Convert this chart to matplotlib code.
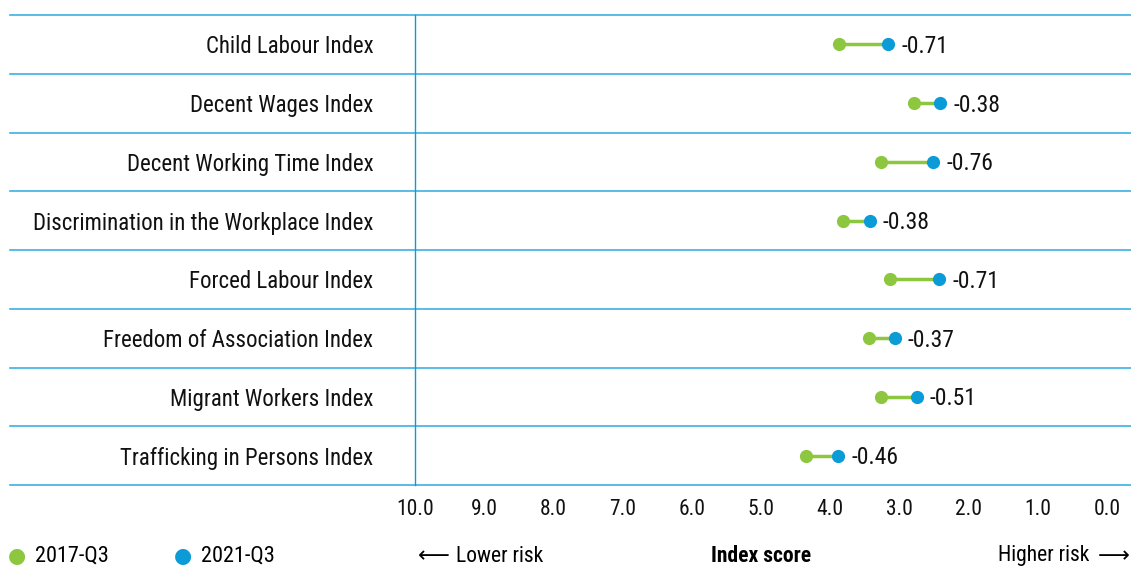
import matplotlib
matplotlib.use("Agg")
import matplotlib.pyplot as plt
from matplotlib import font_manager

indices = [
    "Child Labour Index",
    "Decent Wages Index",
    "Decent Working Time Index",
    "Discrimination in the Workplace Index",
    "Forced Labour Index",
    "Freedom of Association Index",
    "Migrant Workers Index",
    "Trafficking in Persons Index",
]
score_2017 = [3.87, 2.79, 3.27, 3.81, 3.14, 3.44, 3.26, 4.35]
score_2021 = [3.16, 2.41, 2.51, 3.43, 2.43, 3.07, 2.75, 3.89]
change = ["-0.71", "-0.38", "-0.76", "-0.38", "-0.71", "-0.37", "-0.51", "-0.46"]
ticks = [10, 9, 8, 7, 6, 5, 4, 3, 2, 1, 0]

GREEN = "#8dc63f"
BLUE = "#0b9bd7"
RULE = "#3cb0e2"

available = {f.name for f in font_manager.fontManager.ttflist}
for fam in ["Liberation Sans Narrow", "Roboto Condensed", "Roboto"]:
    if fam in available:
        plt.rcParams["font.family"] = fam
        break

fig = plt.figure(figsize=(11.31, 5.68), dpi=100)
W, H = 1131, 568
ax = fig.add_axes([415 / W, 1 - 485 / H, (W - 415) / W, 470 / H])

y = list(range(len(indices)))
for i in y:
    ax.plot([score_2017[i], score_2021[i]], [i, i], color=GREEN, lw=2.5,
            solid_capstyle="butt", zorder=2)
ax.plot(score_2017, y, "o", color=GREEN, ms=9.5, mec="none", zorder=3)
ax.plot(score_2021, y, "o", color=BLUE, ms=9.5, mec="none", zorder=3)
for i in y:
    ax.annotate(change[i], (score_2021[i], i), xytext=(9.5, -1.5),
                textcoords="offset points", va="center", ha="left",
                fontsize=17, color="#111111")

# row rules spanning the label area too
for k in range(len(indices) + 1):
    ax.axhline(k - 0.5, xmin=(10 - 415) / (W - 415), xmax=1, color=RULE,
               lw=1.2, clip_on=False, zorder=1)

ax.set_xlim(10, 10 - (W - 415) / 69.2)
ax.set_ylim(len(indices) - 0.5, -0.5)
for s in ["top", "right", "bottom"]:
    ax.spines[s].set_visible(False)
ax.spines["left"].set_color(BLUE)
ax.spines["left"].set_linewidth(1.0)

ax.set_yticks(y)
ax.set_yticklabels(indices, fontsize=16.5, color="#111111")
ax.tick_params(axis="y", length=0, pad=30)
ax.set_xticks(ticks)
ax.set_xticklabels([f"{t:.1f}" for t in ticks], fontsize=15.5, color="#111111")
ax.tick_params(axis="x", length=0, pad=10)

# bottom legend row
ly = 1 - 556 / H
fig.text(17 / W, ly, "\u25cf", color=GREEN, fontsize=15, ha="center", va="center",
         family="DejaVu Sans")
fig.text(35 / W, ly, "2017-Q3", fontsize=16, va="center")
fig.text(183 / W, ly, "\u25cf", color=BLUE, fontsize=15, ha="center", va="center",
         family="DejaVu Sans")
fig.text(201 / W, ly, "2021-Q3", fontsize=16, va="center")
fig.text(418 / W, ly, "\u27f5", fontsize=16, va="center", family="DejaVu Sans")
fig.text(456 / W, ly, "Lower risk", fontsize=15.5, va="center")
fig.text(761 / W, ly, "Index score", fontsize=15.5, va="center", ha="center",
         fontweight="bold")
fig.text(1089 / W, ly, "Higher risk", fontsize=15.5, va="center", ha="right")
fig.text(1130 / W, ly, "\u27f6", fontsize=16, va="center", ha="right",
         family="DejaVu Sans")

fig.savefig("out.png", dpi=100)
